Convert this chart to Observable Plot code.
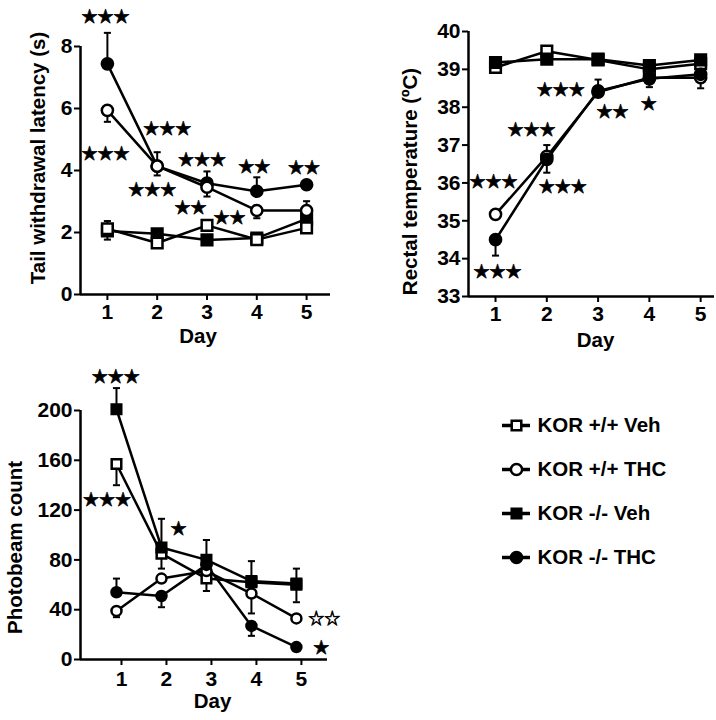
<!DOCTYPE html>
<html><head><meta charset="utf-8">
<script src="https://cdn.jsdelivr.net/npm/d3@7"></script>
<script src="https://cdn.jsdelivr.net/npm/@observablehq/plot@0.6"></script>
<style>
body{margin:0;background:#fff;}
#fig{position:relative;width:716px;height:720px;background:#fff;overflow:hidden;}
#fig > svg{position:absolute;}
</style></head><body><div id="fig"></div>
<script>
// ---------- data ----------
const days = [1, 2, 3, 4, 5];
const groups = ["KOR +/+ Veh", "KOR +/+ THC", "KOR -/- Veh", "KOR -/- THC"];

// Panel A: tail withdrawal latency (s)
const latWTVeh = [2.12, 1.66, 2.23, 1.77, 2.15];
const latWTTHC = [5.94, 4.14, 3.46, 2.71, 2.71];
const latKOVeh = [2.05, 1.96, 1.76, 1.82, 2.44];
const latKOTHC = [7.44, 4.14, 3.59, 3.33, 3.54];
// visible SEM bars [up, down]
const latErrWTVeh = [[0.25, 0.35], [0, 0], [0, 0], [0, 0], [0, 0]];
const latErrWTTHC = [[0, 0.37], [0, 0.3], [0, 0.3], [0, 0.25], [0.3, 0]];
const latErrKOVeh = [[0, 0], [0, 0], [0, 0], [0, 0], [0, 0]];
const latErrKOTHC = [[1.0, 0], [0.45, 0], [0.38, 0], [0.45, 0], [0.1, 0]];
const starsADay = [0.96, 0.96, 2.2, 1.9, 2.9, 2.67, 3.45, 3.95, 4.95];
const starsAVal = [8.94, 4.54, 5.35, 3.38, 4.35, 2.8, 2.47, 4.13, 4.1];
const starsALab = ["★★★", "★★★", "★★★", "★★★", "★★★", "★★", "★★", "★★", "★★"];

// Panel B: rectal temperature (ºC)
const tmpWTVeh = [39.05, 39.48, 39.25, 39.0, 39.15];
const tmpWTTHC = [35.17, 36.7, 38.4, 38.78, 38.78];
const tmpKOVeh = [39.18, 39.27, 39.27, 39.1, 39.25];
const tmpKOTHC = [34.5, 36.62, 38.43, 38.75, 38.87];
const tmpErrWTVeh = [[0, 0.1], [0.05, 0], [0, 0], [0, 0], [0, 0]];
const tmpErrWTTHC = [[0, 0], [0, 0], [0, 0], [0, 0], [0, 0.28]];
const tmpErrKOVeh = [[0, 0], [0, 0], [0, 0], [0, 0], [0, 0]];
const tmpErrKOTHC = [[0, 0.42], [0.38, 0.35], [0.3, 0], [0, 0.22], [0, 0]];
const starsBDay = [0.96, 1.7, 2.31, 1.04, 2.27, 3.28, 3.99];
const starsBVal = [36.03, 37.4, 35.9, 33.65, 38.45, 37.88, 38.1];
const starsBLab = ["★★★", "★★★", "★★★", "★★★", "★★★", "★★", "★"];

// Panel C: photobeam count
const pbWTVeh = [157, 85, 65, 62, 60];
const pbWTTHC = [39, 65, 71, 53, 33];
const pbKOVeh = [201, 90, 80, 63, 61];
const pbKOTHC = [54, 51, 76, 27, 10];
const pbErrWTVeh = [[0, 17], [0, 12], [0, 10], [0, 0], [0, 0]];
const pbErrWTTHC = [[0, 5], [0, 0], [0, 0], [0, 16], [0, 0]];
const pbErrKOVeh = [[17, 0], [23, 0], [16, 0], [16, 0], [12, 15]];
const pbErrKOTHC = [[11, 0], [0, 9], [0, 0], [0, 8], [0, 0]];
const starsCDay = [0.87, 0.68, 2.27, 5.51, 5.44];
const starsCVal = [227, 128, 105, 33, 9.6];
const starsCLab = ["★★★", "★★★", "★", "☆☆", "★"];

// ---------- helpers ----------
function makeRows(vals, errs) {
  return groups.flatMap((g, i) => days.map((d, j) => ({
    group: g, day: d, value: vals[i][j], up: errs[i][j][0], dn: errs[i][j][1]
  })));
}
function makeStars(ds, vs, ls) { return ds.map((d, i) => ({day: d, value: vs[i], label: ls[i]})); }

const FONT = "'Liberation Sans', Arial, Helvetica, sans-serif";
const STARFONT = "'Noto Sans CJK SC', 'DejaVu Sans', sans-serif";
const baseStyle = {fontFamily: FONT, fontSize: "20.5px", fontWeight: "bold", background: "transparent", overflow: "visible", color: "black"};
const capSym = {draw(ctx, size) { const w = Math.sqrt(size); ctx.moveTo(-w / 2, 0); ctx.lineTo(w / 2, 0); }};

function makePanel(c) {
  const rows = c.rows;
  const ups = rows.filter(d => d.up > 0), dns = rows.filter(d => d.dn > 0);
  const dx = c.dx || 0;
  const dotMarks = c.order.map(g => {
    const filled = g.includes("-/-"), sq = g.includes("Veh");
    return Plot.dot(rows.filter(d => d.group === g), {
      x: "day", y: "value", symbol: sq ? "square" : "circle", r: sq ? c.rSquare : c.rCircle,
      fill: filled ? "black" : "white", stroke: "black", strokeWidth: 2.5, dx
    });
  });
  const svg = Plot.plot({
    width: c.width, height: c.height,
    marginTop: c.m[0], marginRight: c.m[1], marginBottom: c.m[2], marginLeft: c.m[3],
    x: {domain: c.xDomain}, y: {domain: c.yDomain},
    style: baseStyle,
    marks: [
      Plot.ruleY([c.yDomain[0]], {stroke: "black", strokeWidth: 2.5}),
      Plot.ruleX([c.xDomain[0]], {y1: c.yDomain[0], y2: c.yDomain[1], stroke: "black", strokeWidth: 2.5}),
      Plot.axisX({ticks: days, tickSize: 6, tickPadding: c.tickPad, strokeWidth: 2, label: null, fontSize: 21, tickFormat: d => String(d)}),
      Plot.axisY({ticks: c.yTicks, tickSize: 6, tickPadding: 2, strokeWidth: 2, label: null, fontSize: 21, tickFormat: d => String(d)}),
      Plot.text(["Day"], {text: d => d, frameAnchor: "bottom", dx: c.dayLab[0], dy: c.dayLab[1], lineAnchor: "middle"}),
      Plot.text([c.yLabel], {text: d => d, frameAnchor: "left", rotate: -90, dx: c.yLab[0], dy: c.yLab[1], lineAnchor: "middle", textAnchor: "middle"}),
      Plot.line(rows, {x: "day", y: "value", z: "group", stroke: "black", strokeWidth: 2.5, dx}),
      Plot.ruleX(ups, {x: "day", y1: "value", y2: d => d.value + d.up, stroke: "black", strokeWidth: 2, dx}),
      Plot.dot(ups, {x: "day", y: d => d.value + d.up, symbol: capSym, r: 4, fill: "none", stroke: "black", strokeWidth: 2, dx}),
      Plot.ruleX(dns, {x: "day", y1: "value", y2: d => d.value - d.dn, stroke: "black", strokeWidth: 2, dx}),
      Plot.dot(dns, {x: "day", y: d => d.value - d.dn, symbol: capSym, r: 4, fill: "none", stroke: "black", strokeWidth: 2, dx}),
      ...dotMarks,
      Plot.text(c.stars, {x: "day", y: "value", text: "label", fontFamily: STARFONT, fontSize: 16, fontWeight: "bold", lineAnchor: "middle", fill: "black", stroke: "black", strokeWidth: 0.6})
    ]
  });
  svg.style.left = c.left + "px";
  svg.style.top = c.top + "px";
  return svg;
}

const fig = document.getElementById("fig");

fig.appendChild(makePanel({
  rows: makeRows([latWTVeh, latWTTHC, latKOVeh, latKOTHC], [latErrWTVeh, latErrWTTHC, latErrKOVeh, latErrKOTHC]),
  order: ["KOR -/- Veh", "KOR +/+ Veh", "KOR -/- THC", "KOR +/+ THC"],
  left: 0, top: 0, width: 360, height: 345, m: [46, 30, 51, 80],
  xDomain: [0.46, 5.48], yDomain: [0, 8], yTicks: [0, 2, 4, 6, 8],
  yLabel: "Tail withdrawal latency (s)", yLab: [-42, -12.5], dayLab: [-7.5, 41.5], tickPad: 4,
  stars: makeStars(starsADay, starsAVal, starsALab), rSquare: 6, rCircle: 5.6
}));

fig.appendChild(makePanel({
  rows: makeRows([tmpWTVeh, tmpWTTHC, tmpKOVeh, tmpKOTHC], [tmpErrWTVeh, tmpErrWTTHC, tmpErrKOVeh, tmpErrKOTHC]),
  order: ["KOR +/+ Veh", "KOR -/- Veh", "KOR +/+ THC", "KOR -/- THC"],
  left: 380, top: 0, width: 336, height: 345, m: [31, 2, 49, 88],
  xDomain: [0.473, 5.27], yDomain: [33, 40], yTicks: [33, 34, 35, 36, 37, 38, 39, 40],
  yLabel: "Rectal temperature (ºC)", yLab: [-58, 17.5], dayLab: [4, 44], tickPad: 4,
  stars: makeStars(starsBDay, starsBVal, starsBLab), rSquare: 6, rCircle: 5.6
}));

fig.appendChild(makePanel({
  rows: makeRows([pbWTVeh, pbWTTHC, pbKOVeh, pbKOTHC], [pbErrWTVeh, pbErrWTTHC, pbErrKOVeh, pbErrKOTHC]),
  order: ["KOR +/+ Veh", "KOR -/- Veh", "KOR +/+ THC", "KOR -/- THC"],
  left: 0, top: 360, width: 360, height: 360, m: [50, 33, 61, 80],
  xDomain: [0.089, 5.58], yDomain: [0, 200], yTicks: [0, 40, 80, 120, 160, 200],
  yLabel: "Photobeam count", yLab: [-65, 12.5], dayLab: [8.5, 42], tickPad: 6, dx: -5,
  stars: makeStars(starsCDay, starsCVal, starsCLab), rSquare: 5.4, rCircle: 5
}));

// legend
const legendDots = groups.map(g => {
  const filled = g.includes("-/-"), sq = g.includes("Veh");
  return Plot.dot([g], {y: d => d, frameAnchor: "middle", symbol: sq ? "square" : "circle", r: sq ? 5.4 : 5.6,
    fill: filled ? "black" : "white", stroke: "black", strokeWidth: 2.5});
});
const legend = Plot.plot({
  width: 236, height: 200, marginTop: 24, marginBottom: 43, marginLeft: 22, marginRight: 186,
  x: {domain: [0, 1], axis: null}, y: {type: "point", domain: groups, padding: 0, axis: null},
  style: baseStyle,
  marks: [
    Plot.ruleY(groups, {y: d => d, stroke: "black", strokeWidth: 3.5}),
    ...legendDots,
    Plot.text(groups, {y: d => d, text: d => d, frameAnchor: "right", dx: 7, textAnchor: "start", lineAnchor: "middle"})
  ]
});
legend.style.left = "480px";
legend.style.top = "400px";
fig.appendChild(legend);
</script>
</body></html>
